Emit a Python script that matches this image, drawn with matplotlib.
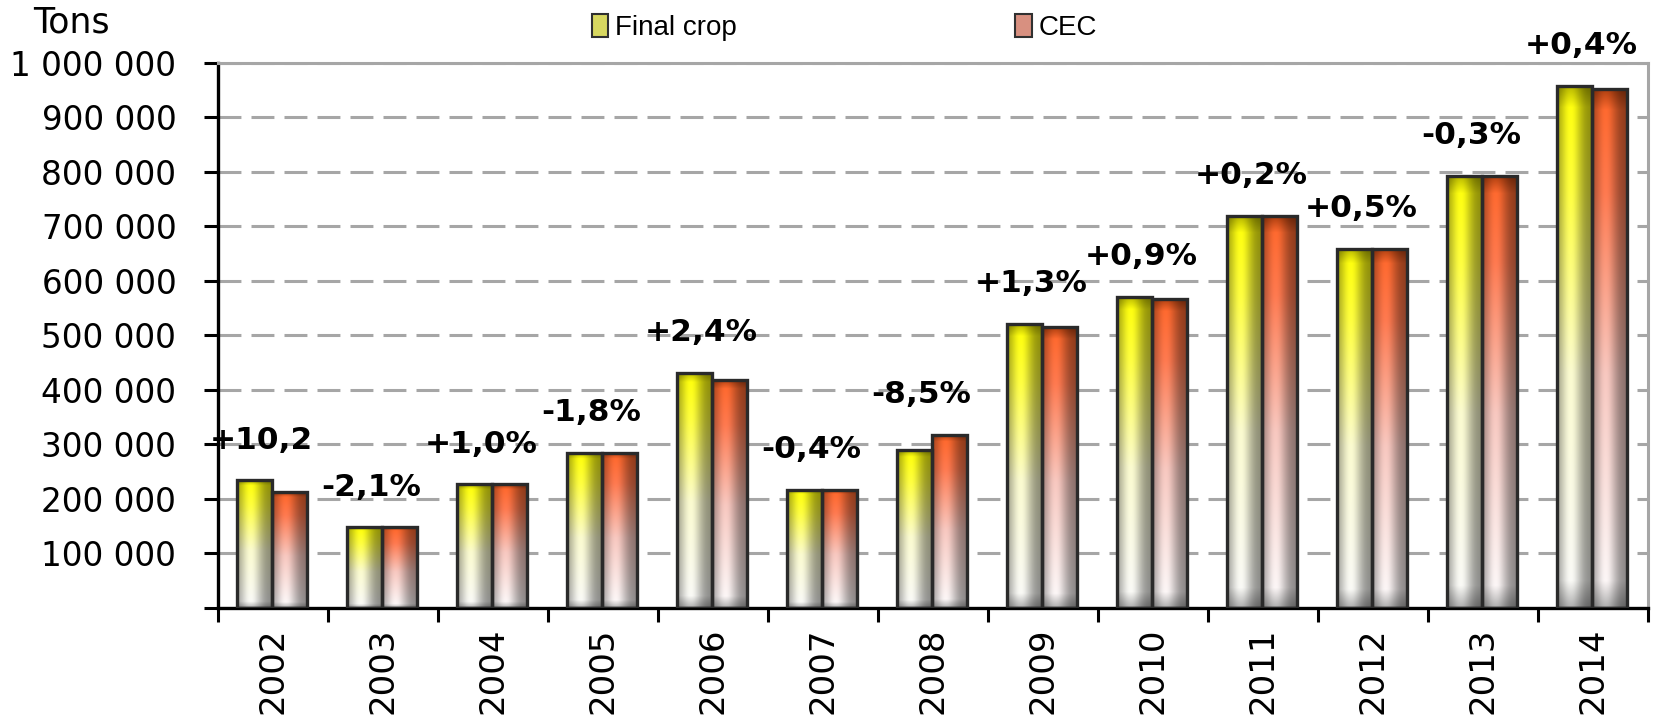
import matplotlib.pyplot as plt
import numpy as np
from matplotlib.patches import Patch
from matplotlib.colors import to_rgb

# data
years = ['2002', '2003', '2004', '2005', '2006', '2007', '2008',
         '2009', '2010', '2011', '2012', '2013', '2014']
final_crop = [234000, 148000, 227000, 285000, 432000, 217000, 289000,
              521000, 571000, 719000, 659000, 793000, 958000]
cec = [212000, 148000, 227000, 285000, 419000, 217000, 318000,
       515000, 567000, 719000, 659000, 793000, 953000]
pct_labels = ['+10,2', '-2,1%', '+1,0%', '-1,8%', '+2,4%', '-0,4%', '-8,5%',
              '+1,3%', '+0,9%', '+0,2%', '+0,5%', '-0,3%', '+0,4%']
yticks = [0, 100000, 200000, 300000, 400000, 500000, 600000,
          700000, 800000, 900000, 1000000]


def gradient_img(stops):
    """Vertical gradient (top colour -> white) with cylinder-like side shading."""
    h, w = 200, 40
    t = np.linspace(0, 1, h)  # 0 bottom, 1 top
    pos = [0.0, 0.05, 0.45, 0.8, 0.96, 1.0]
    cols = np.array([to_rgb(c) for c in stops])
    col = np.stack([np.interp(t, pos, cols[:, k]) for k in range(3)], axis=1)
    x = np.linspace(0, 1, w)
    shade = 0.55 + 0.45 * np.exp(-((x - 0.38) / 0.32) ** 2)
    img = col[:, None, :] * shade[None, :, None]
    return np.clip(img, 0, 1)


yellow_stops = ['#b0b0b0', '#fafaf6', '#fbfbd0', '#ffff40', '#ffff10', '#b8b800']
orange_stops = ['#b0b0b0', '#fcf6f6', '#f8c8c0', '#ff7a50', '#ff6a30', '#b04010']
yellow_img = gradient_img(yellow_stops)
orange_img = gradient_img(orange_stops)

fig = plt.figure(figsize=(16.54, 7.18), dpi=100)
ax = fig.add_axes([0.1318, 0.1532, 0.8646, 0.7591])

x = np.arange(len(years))
w = 0.32
offsets = [-0.17, 0.15]
for series, img, off in [(final_crop, yellow_img, offsets[0]),
                         (cec, orange_img, offsets[1])]:
    for xi, v in zip(x, series):
        x0 = xi + off - w / 2
        ax.imshow(img, extent=(x0, x0 + w, 0, v), origin='lower',
                  aspect='auto', zorder=2, interpolation='bilinear')
    ax.bar(x + off, series, width=w, facecolor='none', edgecolor='#2a2a2a',
           linewidth=2.4, zorder=3)

for xi, a, b, lab in zip(x, final_crop, cec, pct_labels):
    ax.annotate(lab, (xi - 0.11, max(a, b)), xytext=(0, 29),
                textcoords='offset points', ha='center', va='center',
                fontsize=22.5, fontweight='bold', color='black', zorder=4,
                annotation_clip=False)

ax.set_xlim(-0.5, len(years) - 0.5)
ax.set_ylim(0, 1000000)

ax.set_yticks(yticks)
ax.set_yticklabels(['' if v == 0 else f'{v:,}'.replace(',', ' ') for v in yticks],
                   fontsize=23.5)
ax.set_xticks(x)
ax.set_xticklabels(years, rotation=90, fontsize=24.5)
ax.set_xticks(np.arange(len(years) + 1) - 0.5, minor=True)
ax.tick_params(axis='x', which='major', length=0, pad=14)
ax.tick_params(axis='x', which='minor', length=10, width=2.2, color='black')
ax.tick_params(axis='y', length=10, width=2.2, color='black', pad=20)

ax.yaxis.grid(True, linestyle=(0, (7.5, 3.3)), color='#a6a6a6', linewidth=2.2)
ax.set_axisbelow(True)
for s in ['left', 'bottom']:
    ax.spines[s].set_linewidth(2.4)
    ax.spines[s].set_color('black')
for s in ['top', 'right']:
    ax.spines[s].set_linewidth(2.2)
    ax.spines[s].set_color('#a6a6a6')

fig.text(0.02, 0.968, 'Tons', fontsize=25, ha='left', va='center')

handles = [Patch(facecolor='#d8d860', edgecolor='#303030', linewidth=1.5),
           Patch(facecolor='#d89080', edgecolor='#303030', linewidth=1.5)]
fig.legend(handles, ['Final crop', 'CEC'], loc='center',
           bbox_to_anchor=(0.5105, 0.962), ncol=2, frameon=False,
           columnspacing=10.0, handlelength=0.6, handleheight=0.95,
           handletextpad=0.25,
           prop={'family': ['Liberation Sans'], 'size': 20})

fig.savefig('out.png', dpi=100)
